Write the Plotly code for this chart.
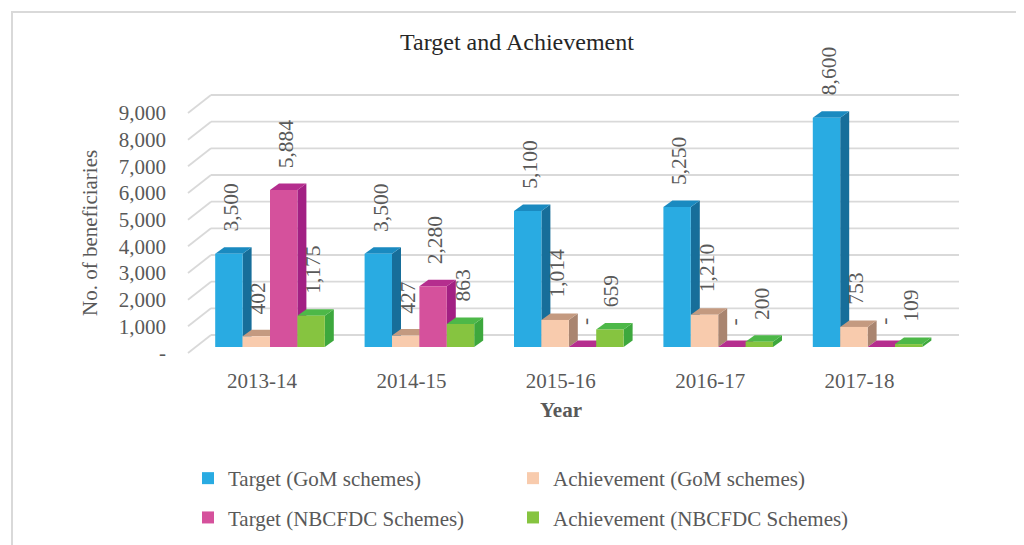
import plotly.graph_objects as go

# ---------------- data ----------------
years = ["2013-14", "2014-15", "2015-16", "2016-17", "2017-18"]
series_names = [
    "Target (GoM schemes)",
    "Achievement (GoM schemes)",
    "Target (NBCFDC Schemes)",
    "Achievement (NBCFDC Schemes)",
]
target_gom = [3500, 3500, 5100, 5250, 8600]
achievement_gom = [402, 427, 1014, 1210, 753]
target_nbcfdc = [5884, 2280, 0, 0, 0]
achievement_nbcfdc = [1175, 863, 659, 200, 109]
y_tick_values = [0, 1000, 2000, 3000, 4000, 5000, 6000, 7000, 8000, 9000]

# ---------------- styling ----------------
FONT = "Liberation Serif"
TXT = "#595959"
GRID = "#d9d9d9"
front_colors = ["#29ABE2", "#F8CBAD", "#D5519C", "#86C440"]
side_colors = ["#176E9A", "#A98570", "#A22083", "#3DA83D"]
top_colors = ["#1A8AC0", "#C49A80", "#B52E8E", "#4DB848"]

OFF = 8                                     # page body margin in the browser
W, H = 1024 - OFF, 545 - OFF
PL, PR, PT, PB = 211, 959, 88, 356          # plot area in page px
X0, XS = 262.0, 149.4                       # px of first category, px per category
Y0, K = 347.0, 240.0 / 9000.0               # px of value 0, px per unit

x_range = [(PL - X0) / XS, (PR - X0) / XS]
y_range = [(Y0 - PB) / K, (Y0 - PT) / K]
bw = 27.4 / XS
grp_shift = 8.0 / XS
ddx = 9.0 / XS
ddy = 6.5 / K
back_shift = 12.0 / K     # back wall gridlines above bar scale
front_shift = 6.0 / K     # front edge below bar scale


def px_x(p):
    return (p - PL) / (PR - PL)


def px_y(p):
    return (PB - p) / (PB - PT)


series = [target_gom, achievement_gom, target_nbcfdc, achievement_nbcfdc]
legend_of = ["legend", "legend2", "legend", "legend2"]
idx = list(range(len(years)))

fig = go.Figure()
for j, (name, vals) in enumerate(zip(series_names, series)):
    fig.add_trace(go.Bar(
        x=idx, y=vals, width=bw, offset=grp_shift - 2 * bw + j * bw,
        name=name, marker=dict(color=front_colors[j], line=dict(width=0)),
        legend=legend_of[j], legendgroup=name,
        hovertemplate="%{y:,}<extra>" + name + "</extra>",
    ))

shapes = []
# gridlines: back wall + slanted floor edge
for v in y_tick_values:
    shapes.append(dict(type="line", xref="paper", yref="y", x0=0, x1=1,
                       y0=v + back_shift, y1=v + back_shift,
                       line=dict(color=GRID, width=1.8), layer="below"))
    shapes.append(dict(type="line", xref="paper", yref="y",
                       x0=px_x(188), x1=0, y0=v - front_shift, y1=v + back_shift,
                       line=dict(color=GRID, width=1.8), layer="below"))

# 3D side faces then top faces
sides, tops = [], []
for j, vals in enumerate(series):
    for i, v in enumerate(vals):
        xl = i + grp_shift - 2 * bw + j * bw
        xr = xl + bw
        sides.append(dict(
            type="path", xref="x", yref="y", layer="below",
            path=f"M{xr},0 L{xr},{v} L{xr + ddx},{v + ddy} L{xr + ddx},{ddy} Z",
            fillcolor=side_colors[j], line=dict(width=0)))
        tops.append(dict(
            type="path", xref="x", yref="y", layer="below",
            path=f"M{xl},{v} L{xr},{v} L{xr + ddx},{v + ddy} L{xl + ddx},{v + ddy} Z",
            fillcolor=top_colors[j], line=dict(width=0)))
shapes += sides + tops

# outer chart border
shapes.append(dict(type="rect", xref="paper", yref="paper",
                   x0=px_x(12), x1=px_x(1022), y0=px_y(560), y1=px_y(12),
                   line=dict(color="#d9d9d9", width=2), layer="below"))

annotations = []
for j, vals in enumerate(series):
    for i, v in enumerate(vals):
        xc = i + grp_shift - 2 * bw + j * bw + bw / 2
        annotations.append(dict(
            x=xc, y=v, xref="x", yref="y", text=(f"{v:,}" if v else "-"),
            showarrow=False, textangle=-90, xanchor="center", yanchor="bottom",
            yshift=20, xshift=2, font=dict(family=FONT, size=21.5, color=TXT)))

annotations.append(dict(
    x=px_x(90), y=px_y(233), xref="paper", yref="paper", text="No. of beneficiaries",
    showarrow=False, textangle=-90, xanchor="center", yanchor="middle",
    font=dict(family=FONT, size=21, color=TXT)))
annotations.append(dict(
    x=2, y=px_y(410), xref="x", yref="paper", text="<b>Year</b>",
    showarrow=False, xanchor="center", yanchor="middle",
    font=dict(family=FONT, size=21, color=TXT)))

fig.update_layout(
    width=W, height=H,
    margin=dict(l=PL - OFF, r=1024 - PR, t=PT - OFF, b=545 - PB, autoexpand=False),
    paper_bgcolor="white", plot_bgcolor="white",
    barmode="overlay",
    font=dict(family=FONT, size=21, color=TXT),
    title=dict(text="Target and Achievement", x=(517 - OFF) / W, xref="container",
               xanchor="center", y=1 - (42 - OFF) / H, yref="container", yanchor="middle",
               font=dict(family=FONT, size=24, color="#262626")),
    xaxis=dict(range=x_range, tickmode="array", tickvals=idx, ticktext=years,
               showgrid=False, zeroline=False, showline=False, ticks="",
               ticklabelstandoff=10, tickfont=dict(family=FONT, size=21, color=TXT)),
    yaxis=dict(range=y_range, tickmode="array", tickvals=y_tick_values,
               ticktext=[f"{v:,}" if v else "-" for v in y_tick_values],
               showgrid=False, zeroline=False, showline=False, ticks="",
               ticklabelstandoff=44, ticklabelshift=6,
               tickfont=dict(family=FONT, size=21, color=TXT)),
    legend=dict(x=px_x(188), y=px_y(458), xanchor="left", yanchor="top",
                orientation="v", tracegroupgap=9, bgcolor="rgba(0,0,0,0)",
                font=dict(family=FONT, size=21, color=TXT)),
    legend2=dict(x=px_x(513), y=px_y(458), xanchor="left", yanchor="top",
                 orientation="v", tracegroupgap=9, bgcolor="rgba(0,0,0,0)",
                 font=dict(family=FONT, size=21, color=TXT)),
    shapes=shapes,
    annotations=annotations,
)

fig.write_html("out.html")
